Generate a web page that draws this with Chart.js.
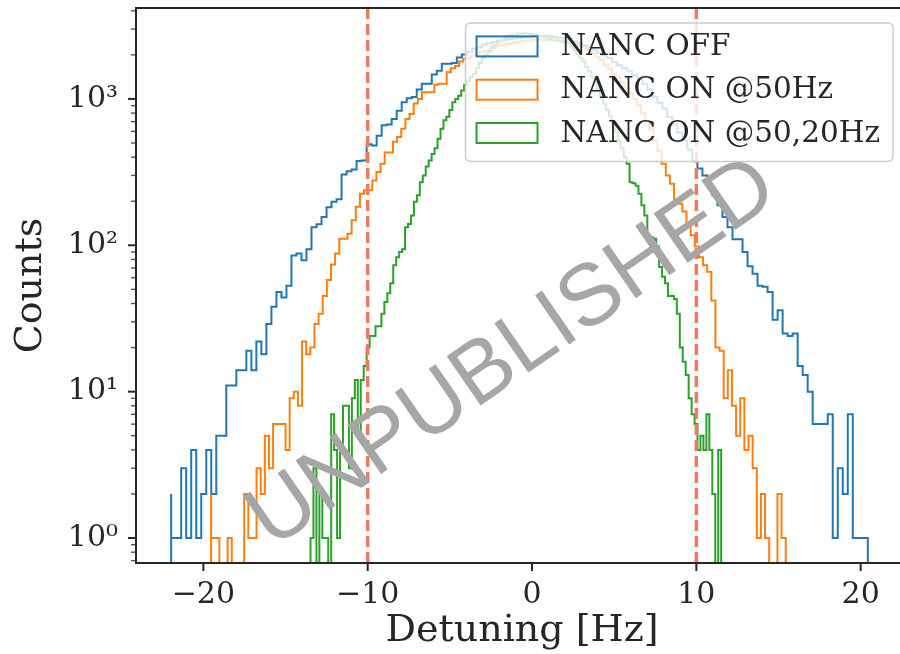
<!DOCTYPE html>
<html>
<head>
<meta charset="utf-8">
<script src="https://cdn.jsdelivr.net/npm/chart.js@4.4.0/dist/chart.umd.min.js"></script>
<style>
  html, body { margin: 0; padding: 0; background: #fff; overflow: hidden; }
  #wrap { width: 900px; height: 654px; overflow: hidden; }
</style>
</head>
<body>
<div id="wrap"><canvas id="chart" width="910" height="654"></canvas></div>
<script>
// legend labels
const seriesLabels = ['NANC OFF', 'NANC ON @50Hz', 'NANC ON @50,20Hz'];

// histogram ranges [first edge, last edge] in Hz, 140 bins each
const offRange = [-21.96, 20.74];
const on50Range = [-19.53, 15.69];
const on5020Range = [-13.48, 11.69];

// counts per bin
const offCounts = [
  2, 1, 1, 3, 1, 4, 1, 2, 4, 2,
  5, 5, 11, 11, 14, 14, 19, 14, 22, 18,
  29, 38, 48, 44, 53, 85, 88, 79, 94, 133,
  139, 156, 182, 198, 206, 304, 320, 330, 377, 380,
  490, 480, 560, 660, 670, 730, 830, 950, 1010, 1030,
  1160, 1270, 1270, 1470, 1560, 1740, 1740, 1760, 1920, 2010,
  2100, 2200, 2250, 2350, 2400, 2450, 2500, 2520, 2560, 2600,
  2620, 2650, 2640, 2680, 2700, 2690, 2700, 2660, 2620, 2600,
  2560, 2480, 2420, 2330, 2250, 2150, 2050, 1980, 1900, 1780,
  1700, 1620, 1560, 1450, 1380, 1270, 1160, 1030, 940, 860,
  750, 670, 590, 520, 450, 380, 335, 300, 255, 220,
  188, 156, 133, 110, 110, 90, 72, 64, 53, 52,
  48, 31, 36, 25, 24, 25, 15, 13, 10, 6,
  6, 6, 7, 1, 3, 2, 7, 1, 1, 1
];
const on50Counts = [
  2, 1, 1, 0, 0, 1, 0, 0, 0, 2,
  1, 1, 3, 2, 5, 3, 6, 6, 6, 4,
  9, 10, 8, 22, 18, 20, 29, 34, 45, 58,
  74, 88, 111, 111, 120, 148, 183, 225, 238, 238,
  277, 317, 360, 430, 430, 510, 550, 625, 730, 790,
  930, 1000, 1110, 1110, 1110, 1250, 1270, 1270, 1520, 1620,
  1680, 1800, 1880, 1900, 1980, 2050, 2100, 2130, 2160, 2230,
  2300, 2330, 2380, 2400, 2430, 2460, 2500, 2500, 2520, 2540,
  2550, 2540, 2550, 2530, 2540, 2500, 2480, 2450, 2400, 2350,
  2300, 2250, 2150, 2050, 1950, 1850, 1700, 1600, 1480, 1400,
  1300, 1200, 1100, 1000, 900, 800, 700, 620, 520, 440,
  360, 300, 263, 203, 192, 170, 141, 117, 98, 83,
  73, 66, 42, 20, 19, 9, 14, 8, 5, 9,
  4, 5, 3, 1, 2, 1, 0, 0, 2, 1
];
const on5020Counts = [
  1, 1, 3, 0, 2, 1, 1, 0, 7, 4,
  1, 4, 8, 8, 3, 9, 12, 5, 12, 15,
  20, 24, 24, 28, 28, 34, 41, 47, 55, 73,
  83, 90, 94, 133, 140, 160, 198, 220, 270, 300,
  345, 380, 420, 460, 535, 625, 715, 755, 840, 950,
  1000, 1050, 1140, 1250, 1330, 1420, 1480, 1620, 1760, 1900,
  1980, 2100, 2250, 2330, 2420, 2500, 2560, 2620, 2700, 2720,
  2760, 2800, 2790, 2820, 2800, 2790, 2760, 2740, 2700, 2680,
  2650, 2620, 2580, 2540, 2500, 2480, 2460, 2430, 2400, 2280,
  2150, 2020, 1900, 1800, 1650, 1550, 1420, 1300, 1150, 1020,
  930, 840, 760, 680, 600, 520, 460, 400, 360, 270,
  265, 255, 225, 188, 160, 113, 113, 111, 98, 71,
  61, 55, 45, 45, 43, 34, 20, 16, 13, 9,
  7, 6, 4, 5, 4, 7, 4, 2, 0, 4
];

// dashed markers at +-10 Hz
const cutoffLines = [-10, 10];

// axes
const xLimits = [-24.1, 22.88];
const yLimits = [0.675, 4180];
const xTicks = [-20, -10, 0, 10, 20];
const yDecades = [1, 10, 100, 1000];

const FLOOR = 0.1; // empty bins drop below the axis
const SUP = { '0': '\u2070', '1': '\u00b9', '2': '\u00b2', '3': '\u00b3' };
const INK = '#262626';

// step outline like matplotlib histtype='step'
function stepPoints(range, counts) {
  const w = (range[1] - range[0]) / counts.length;
  const pts = [{ x: range[0], y: FLOOR }];
  counts.forEach((c, i) => pts.push({ x: range[0] + i * w, y: c > 0 ? c : FLOOR }));
  pts.push({ x: range[1], y: FLOOR });
  return pts;
}

const histStyle = { stepped: 'after', pointRadius: 0, borderWidth: 2, fill: false, inLegend: true };

const datasets = [
  { ...histStyle, label: seriesLabels[0], data: stepPoints(offRange, offCounts), borderColor: '#1f77b4', order: 3 },
  { ...histStyle, label: seriesLabels[1], data: stepPoints(on50Range, on50Counts), borderColor: '#ff7f0e', order: 2 },
  { ...histStyle, label: seriesLabels[2], data: stepPoints(on5020Range, on5020Counts), borderColor: '#2ca02c', order: 1 },
];
cutoffLines.forEach(v => {
  datasets.push({
    label: 'cut ' + v,
    data: [{ x: v, y: yLimits[0] }, { x: v, y: yLimits[1] }],
    borderColor: '#f07a5e', borderWidth: 3.5, borderDash: [11, 5],
    pointRadius: 0, fill: false, order: 0
  });
});

// spines and tick marks
const frameAndTicks = {
  id: 'frameAndTicks',
  afterDatasetsDraw(chart) {
    const { ctx, chartArea: a, scales: { x, y } } = chart;
    ctx.save();
    ctx.strokeStyle = INK;
    ctx.lineWidth = 2;
    x.ticks.forEach(t => {
      const px = x.getPixelForValue(t.value);
      ctx.beginPath(); ctx.moveTo(px, a.bottom); ctx.lineTo(px, a.bottom + 8); ctx.stroke();
    });
    y.ticks.forEach(t => {
      const py = y.getPixelForValue(t.value);
      const major = yDecades.includes(t.value);
      ctx.lineWidth = major ? 2 : 1.4;
      ctx.strokeStyle = major ? INK : '#555';
      ctx.beginPath(); ctx.moveTo(a.left, py); ctx.lineTo(a.left - (major ? 8 : 5), py); ctx.stroke();
    });
    ctx.lineWidth = 2;
    ctx.strokeStyle = INK;
    ctx.strokeRect(a.left, a.top, a.width, a.height);
    ctx.restore();
  }
};

// legend box in the upper right, then the watermark on top
const legendAndStamp = {
  id: 'legendAndStamp',
  afterDraw(chart) {
    const { ctx, chartArea: a } = chart;
    const items = chart.data.datasets.filter(d => d.inLegend);
    ctx.save();
    ctx.font = '29.5px "DejaVu Serif"';
    const textW = Math.max(...items.map(d => ctx.measureText(d.label).width));
    const pad = 11, handleW = 61, handleH = 20, gap = 23, rowH = 43.3;
    const w = pad + handleW + gap + textW + 13;
    const h = 138.4;
    const right = a.right - 15, top = a.top + 15, left = right - w;

    ctx.beginPath();
    ctx.roundRect(left, top, w, h, 5);
    ctx.fillStyle = 'rgba(255,255,255,0.8)';
    ctx.fill();
    ctx.lineWidth = 1.5;
    ctx.strokeStyle = '#cccccc';
    ctx.stroke();

    items.forEach((d, i) => {
      const cy = top + 23.4 + i * rowH;
      ctx.lineWidth = 2;
      ctx.strokeStyle = d.borderColor;
      ctx.strokeRect(left + pad, cy - handleH / 2, handleW, handleH);
      ctx.fillStyle = INK;
      ctx.textAlign = 'left';
      ctx.textBaseline = 'middle';
      ctx.fillText(d.label, left + pad + handleW + gap, cy + 1);
    });

    // watermark
    ctx.translate(513, 354);
    ctx.rotate(-34.6 * Math.PI / 180);
    ctx.font = '87px "Liberation Sans"';
    ctx.fillStyle = '#a6a6a6';
    ctx.textAlign = 'center';
    ctx.textBaseline = 'middle';
    ctx.fillText('UNPUBLISHED', 0, 0);
    ctx.restore();
  }
};

// keep the plot area where matplotlib put it
function noEdgePadding(s) {
  s.paddingTop = 0;
  s.paddingBottom = 0;
  s.paddingLeft = 0;
  s.paddingRight = 0;
}

new Chart(document.getElementById('chart').getContext('2d'), {
  type: 'line',
  data: { datasets },
  options: {
    responsive: false,
    animation: false,
    devicePixelRatio: 1,
    layout: { padding: { top: 8, right: 2, left: 0, bottom: 0 } },
    plugins: {
      legend: { display: false },
      tooltip: { enabled: false },
    },
    scales: {
      x: {
        type: 'linear',
        min: xLimits[0],
        max: xLimits[1],
        afterBuildTicks: s => { s.ticks = xTicks.map(v => ({ value: v })); },
        afterFit: s => { s.height = 91; noEdgePadding(s); },
        grid: { display: false, drawTicks: false },
        border: { display: false },
        ticks: {
          padding: 14,
          color: INK,
          font: { family: 'DejaVu Serif', size: 30 },
          maxRotation: 0,
          callback: v => (v < 0 ? '\u2212' + Math.abs(v) : String(v)),
        },
        title: {
          display: true,
          text: 'Detuning [Hz]',
          color: INK,
          font: { family: 'DejaVu Serif', size: 38 },
          padding: { top: 0, bottom: 0 },
        },
      },
      y: {
        type: 'logarithmic',
        min: yLimits[0],
        max: yLimits[1],
        afterBuildTicks: s => {
          const vals = [];
          [0.1, 1, 10, 100, 1000].forEach(d => {
            for (let m = 1; m <= 9; m++) {
              const v = +(m * d).toPrecision(3);
              if (v >= yLimits[0] && v <= yLimits[1]) vals.push(v);
            }
          });
          s.ticks = vals.map(v => ({ value: v }));
        },
        afterFit: s => { s.width = 136; noEdgePadding(s); },
        grid: { display: false, drawTicks: false },
        border: { display: false },
        ticks: {
          padding: 18,
          color: INK,
          autoSkip: false,
          font: { family: 'DejaVu Serif', size: 30 },
          callback: v => {
            if (!yDecades.includes(v)) return '';
            return '10' + SUP[String(Math.round(Math.log10(v)))];
          },
        },
        title: {
          display: true,
          text: 'Counts',
          color: INK,
          font: { family: 'DejaVu Serif', size: 38 },
          padding: { top: 8, bottom: 0 },
        },
      },
    },
  },
  plugins: [frameAndTicks, legendAndStamp],
});
</script>
</body>
</html>
